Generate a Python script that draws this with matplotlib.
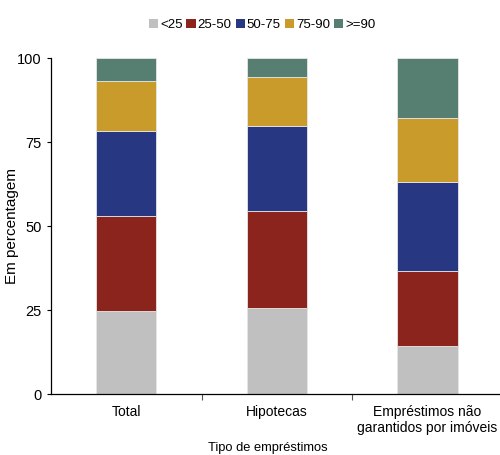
import matplotlib.pyplot as plt
import numpy as np
from matplotlib.patches import Patch

plt.rcParams['font.family'] = ['Liberation Sans', 'DejaVu Sans']

#------
# data: share of loans by band, per loan type (percent)
categories = ['Total', 'Hipotecas', 'Empréstimos não\ngarantidos por imóveis']
bands = ['<25', '25-50', '50-75', '75-90', '>=90']
share_lt25 = [24.8, 25.7, 14.4]
share_25_50 = [28.3, 28.7, 22.2]
share_50_75 = [25.3, 25.4, 26.5]
share_75_90 = [14.9, 14.5, 19.1]
share_ge90 = [6.7, 5.7, 17.8]
colors = ['#c0c0c0', '#8b241c', '#283782', '#c99b2b', '#567f71']

series = [share_lt25, share_25_50, share_50_75, share_75_90, share_ge90]

fig = plt.figure(figsize=(5, 4.55), dpi=100)
ax = fig.add_axes([0.102, 0.134, 0.9035, 0.7385])

x = np.arange(len(categories))
bottom = np.zeros(len(categories))
for vals, col in zip(series, colors):
    ax.bar(x, vals, width=0.4, bottom=bottom, color=col,
           edgecolor='#e6e6e6', linewidth=0.6)
    bottom += np.array(vals)

ax.set_xlim(-0.5, 2.5)
ax.set_ylim(0, 100)
ax.set_yticks([0, 25, 50, 75, 100])
ax.tick_params(axis='y', labelsize=10.5, length=3, width=0.8)

# separators between groups as major ticks, names as minor tick labels
ax.set_xticks([0.5, 1.5])
ax.set_xticklabels([])
ax.set_xticks(x, minor=True)
ax.set_xticklabels(categories, minor=True, fontsize=10)
ax.tick_params(axis='x', which='major', length=4, width=0.8, color='#555555')
ax.tick_params(axis='x', which='minor', length=0, pad=8)

for s in ['top', 'right']:
    ax.spines[s].set_visible(False)
for s in ['left', 'bottom']:
    ax.spines[s].set_linewidth(0.9)

ax.set_ylabel('Em percentagem', fontsize=11)
ax.yaxis.set_label_coords(-0.07, 0.5)
fig.text(268 / 500, 1 - 448 / 455, 'Tipo de empréstimos', ha='center',
         va='center', fontsize=9.3)

handles = [Patch(facecolor=c, edgecolor='none') for c in colors]
fig.legend(handles, bands, loc='center', bbox_to_anchor=(262 / 500, 1 - 25 / 455),
           ncol=5, frameon=False, fontsize=9.5, handlelength=0.7,
           handleheight=0.7, handletextpad=0.15, columnspacing=0.3)

fig.savefig('out.png', dpi=100)
